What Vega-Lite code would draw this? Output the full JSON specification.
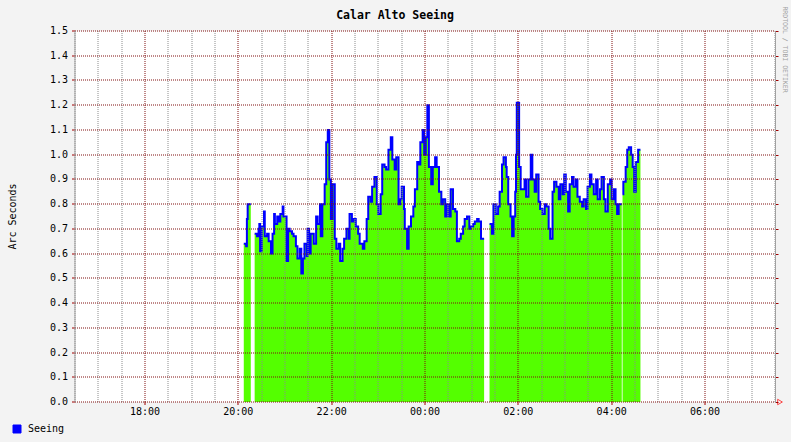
{
 "$schema": "https://vega.github.io/schema/vega-lite/v6.json",
 "width": 700,
 "height": 371,
 "autosize": {"type": "none"},
 "padding": {"left": 75, "top": 31, "right": 16, "bottom": 40},
 "background": "#f3f3f3",
 "config": {"view": {"fill": "#ffffff", "stroke": null}, "font": "DejaVu Sans Mono"},
 "title": {"text": "Calar Alto Seeing", "font": "DejaVu Sans Mono", "fontSize": 11.5, "fontWeight": "bold", "color": "#000000", "anchor": "middle", "dx": -30, "offset": 12, "dy": 37, "baseline": "alphabetic"},
 "data": {"values": [
  {"t": "2013-03-10T20:07:00Z", "v": 0.64},
  {"t": "2013-03-10T20:10:00Z", "v": 0.63},
  {"t": "2013-03-10T20:11:00Z", "v": 0.74},
  {"t": "2013-03-10T20:12:00Z", "v": 0.80},
  {"t": "2013-03-10T20:16:00Z", "v": 0.80},
  {"t": "2013-03-10T20:18:00Z", "v": null},
  {"t": "2013-03-10T20:21:00Z", "v": 0.68},
  {"t": "2013-03-10T20:24:00Z", "v": 0.67},
  {"t": "2013-03-10T20:26:00Z", "v": 0.70},
  {"t": "2013-03-10T20:27:00Z", "v": 0.72},
  {"t": "2013-03-10T20:28:00Z", "v": 0.61},
  {"t": "2013-03-10T20:30:00Z", "v": 0.71},
  {"t": "2013-03-10T20:33:00Z", "v": 0.77},
  {"t": "2013-03-10T20:34:00Z", "v": 0.67},
  {"t": "2013-03-10T20:37:00Z", "v": 0.68},
  {"t": "2013-03-10T20:39:00Z", "v": 0.65},
  {"t": "2013-03-10T20:42:00Z", "v": 0.60},
  {"t": "2013-03-10T20:44:00Z", "v": 0.68},
  {"t": "2013-03-10T20:46:00Z", "v": 0.76},
  {"t": "2013-03-10T20:47:00Z", "v": 0.72},
  {"t": "2013-03-10T20:50:00Z", "v": 0.75},
  {"t": "2013-03-10T20:52:00Z", "v": 0.73},
  {"t": "2013-03-10T20:54:00Z", "v": 0.76},
  {"t": "2013-03-10T20:57:00Z", "v": 0.79},
  {"t": "2013-03-10T20:58:00Z", "v": 0.75},
  {"t": "2013-03-10T21:02:00Z", "v": 0.57},
  {"t": "2013-03-10T21:04:00Z", "v": 0.70},
  {"t": "2013-03-10T21:06:00Z", "v": 0.69},
  {"t": "2013-03-10T21:09:00Z", "v": 0.68},
  {"t": "2013-03-10T21:11:00Z", "v": 0.67},
  {"t": "2013-03-10T21:14:00Z", "v": 0.63},
  {"t": "2013-03-10T21:16:00Z", "v": 0.58},
  {"t": "2013-03-10T21:19:00Z", "v": 0.62},
  {"t": "2013-03-10T21:21:00Z", "v": 0.52},
  {"t": "2013-03-10T21:23:00Z", "v": 0.58},
  {"t": "2013-03-10T21:25:00Z", "v": 0.64},
  {"t": "2013-03-10T21:28:00Z", "v": 0.59},
  {"t": "2013-03-10T21:29:00Z", "v": 0.70},
  {"t": "2013-03-10T21:31:00Z", "v": 0.60},
  {"t": "2013-03-10T21:33:00Z", "v": 0.68},
  {"t": "2013-03-10T21:37:00Z", "v": 0.64},
  {"t": "2013-03-10T21:40:00Z", "v": 0.75},
  {"t": "2013-03-10T21:42:00Z", "v": 0.72},
  {"t": "2013-03-10T21:45:00Z", "v": 0.80},
  {"t": "2013-03-10T21:46:00Z", "v": 0.67},
  {"t": "2013-03-10T21:48:00Z", "v": 0.80},
  {"t": "2013-03-10T21:51:00Z", "v": 0.88},
  {"t": "2013-03-10T21:53:00Z", "v": 1.05},
  {"t": "2013-03-10T21:55:00Z", "v": 1.10},
  {"t": "2013-03-10T21:57:00Z", "v": 0.90},
  {"t": "2013-03-10T21:59:00Z", "v": 0.74},
  {"t": "2013-03-10T22:01:00Z", "v": 0.88},
  {"t": "2013-03-10T22:04:00Z", "v": 0.66},
  {"t": "2013-03-10T22:06:00Z", "v": 0.62},
  {"t": "2013-03-10T22:09:00Z", "v": 0.64},
  {"t": "2013-03-10T22:11:00Z", "v": 0.57},
  {"t": "2013-03-10T22:14:00Z", "v": 0.62},
  {"t": "2013-03-10T22:16:00Z", "v": 0.66},
  {"t": "2013-03-10T22:19:00Z", "v": 0.70},
  {"t": "2013-03-10T22:22:00Z", "v": 0.66},
  {"t": "2013-03-10T22:23:00Z", "v": 0.76},
  {"t": "2013-03-10T22:26:00Z", "v": 0.73},
  {"t": "2013-03-10T22:28:00Z", "v": 0.74},
  {"t": "2013-03-10T22:31:00Z", "v": 0.71},
  {"t": "2013-03-10T22:34:00Z", "v": 0.68},
  {"t": "2013-03-10T22:36:00Z", "v": 0.64},
  {"t": "2013-03-10T22:40:00Z", "v": 0.62},
  {"t": "2013-03-10T22:42:00Z", "v": 0.65},
  {"t": "2013-03-10T22:45:00Z", "v": 0.74},
  {"t": "2013-03-10T22:47:00Z", "v": 0.83},
  {"t": "2013-03-10T22:50:00Z", "v": 0.81},
  {"t": "2013-03-10T22:52:00Z", "v": 0.87},
  {"t": "2013-03-10T22:55:00Z", "v": 0.91},
  {"t": "2013-03-10T22:58:00Z", "v": 0.80},
  {"t": "2013-03-10T23:00:00Z", "v": 0.76},
  {"t": "2013-03-10T23:03:00Z", "v": 0.84},
  {"t": "2013-03-10T23:05:00Z", "v": 0.96},
  {"t": "2013-03-10T23:08:00Z", "v": 0.95},
  {"t": "2013-03-10T23:10:00Z", "v": 0.94},
  {"t": "2013-03-10T23:13:00Z", "v": 1.02},
  {"t": "2013-03-10T23:16:00Z", "v": 1.07},
  {"t": "2013-03-10T23:18:00Z", "v": 0.98},
  {"t": "2013-03-10T23:21:00Z", "v": 0.94},
  {"t": "2013-03-10T23:23:00Z", "v": 0.99},
  {"t": "2013-03-10T23:26:00Z", "v": 0.80},
  {"t": "2013-03-10T23:28:00Z", "v": 0.82},
  {"t": "2013-03-10T23:30:00Z", "v": 0.87},
  {"t": "2013-03-10T23:33:00Z", "v": 0.78},
  {"t": "2013-03-10T23:34:00Z", "v": 0.70},
  {"t": "2013-03-10T23:37:00Z", "v": 0.62},
  {"t": "2013-03-10T23:39:00Z", "v": 0.71},
  {"t": "2013-03-10T23:42:00Z", "v": 0.75},
  {"t": "2013-03-10T23:45:00Z", "v": 0.79},
  {"t": "2013-03-10T23:47:00Z", "v": 0.86},
  {"t": "2013-03-10T23:50:00Z", "v": 0.97},
  {"t": "2013-03-10T23:52:00Z", "v": 0.96},
  {"t": "2013-03-10T23:54:00Z", "v": 1.05},
  {"t": "2013-03-10T23:57:00Z", "v": 1.10},
  {"t": "2013-03-10T23:59:00Z", "v": 1.00},
  {"t": "2013-03-11T00:01:00Z", "v": 1.07},
  {"t": "2013-03-11T00:03:00Z", "v": 1.20},
  {"t": "2013-03-11T00:05:00Z", "v": 0.95},
  {"t": "2013-03-11T00:08:00Z", "v": 0.88},
  {"t": "2013-03-11T00:10:00Z", "v": 0.95},
  {"t": "2013-03-11T00:13:00Z", "v": 0.99},
  {"t": "2013-03-11T00:15:00Z", "v": 0.95},
  {"t": "2013-03-11T00:18:00Z", "v": 0.85},
  {"t": "2013-03-11T00:21:00Z", "v": 0.80},
  {"t": "2013-03-11T00:23:00Z", "v": 0.82},
  {"t": "2013-03-11T00:26:00Z", "v": 0.75},
  {"t": "2013-03-11T00:28:00Z", "v": 0.80},
  {"t": "2013-03-11T00:31:00Z", "v": 0.75},
  {"t": "2013-03-11T00:33:00Z", "v": 0.86},
  {"t": "2013-03-11T00:36:00Z", "v": 0.78},
  {"t": "2013-03-11T00:39:00Z", "v": 0.77},
  {"t": "2013-03-11T00:41:00Z", "v": 0.65},
  {"t": "2013-03-11T00:44:00Z", "v": 0.66},
  {"t": "2013-03-11T00:46:00Z", "v": 0.68},
  {"t": "2013-03-11T00:49:00Z", "v": 0.71},
  {"t": "2013-03-11T00:51:00Z", "v": 0.74},
  {"t": "2013-03-11T00:54:00Z", "v": 0.75},
  {"t": "2013-03-11T00:57:00Z", "v": 0.70},
  {"t": "2013-03-11T00:59:00Z", "v": 0.71},
  {"t": "2013-03-11T01:02:00Z", "v": 0.72},
  {"t": "2013-03-11T01:04:00Z", "v": 0.73},
  {"t": "2013-03-11T01:07:00Z", "v": 0.74},
  {"t": "2013-03-11T01:09:00Z", "v": 0.73},
  {"t": "2013-03-11T01:12:00Z", "v": 0.66},
  {"t": "2013-03-11T01:16:00Z", "v": 0.66},
  {"t": "2013-03-11T01:19:00Z", "v": null},
  {"t": "2013-03-11T01:23:00Z", "v": 0.72},
  {"t": "2013-03-11T01:26:00Z", "v": 0.68},
  {"t": "2013-03-11T01:28:00Z", "v": 0.80},
  {"t": "2013-03-11T01:31:00Z", "v": 0.76},
  {"t": "2013-03-11T01:34:00Z", "v": 0.79},
  {"t": "2013-03-11T01:36:00Z", "v": 0.85},
  {"t": "2013-03-11T01:39:00Z", "v": 0.96},
  {"t": "2013-03-11T01:41:00Z", "v": 0.99},
  {"t": "2013-03-11T01:44:00Z", "v": 0.95},
  {"t": "2013-03-11T01:45:00Z", "v": 0.91},
  {"t": "2013-03-11T01:47:00Z", "v": 0.80},
  {"t": "2013-03-11T01:50:00Z", "v": 0.75},
  {"t": "2013-03-11T01:52:00Z", "v": 0.67},
  {"t": "2013-03-11T01:54:00Z", "v": 0.75},
  {"t": "2013-03-11T01:56:00Z", "v": 0.85},
  {"t": "2013-03-11T01:57:00Z", "v": 1.00},
  {"t": "2013-03-11T01:58:00Z", "v": 1.21},
  {"t": "2013-03-11T02:01:00Z", "v": 0.95},
  {"t": "2013-03-11T02:03:00Z", "v": 0.86},
  {"t": "2013-03-11T02:08:00Z", "v": 0.90},
  {"t": "2013-03-11T02:10:00Z", "v": 0.83},
  {"t": "2013-03-11T02:13:00Z", "v": 0.90},
  {"t": "2013-03-11T02:16:00Z", "v": 1.00},
  {"t": "2013-03-11T02:18:00Z", "v": 0.90},
  {"t": "2013-03-11T02:21:00Z", "v": 0.85},
  {"t": "2013-03-11T02:23:00Z", "v": 0.92},
  {"t": "2013-03-11T02:26:00Z", "v": 0.81},
  {"t": "2013-03-11T02:28:00Z", "v": 0.78},
  {"t": "2013-03-11T02:31:00Z", "v": 0.76},
  {"t": "2013-03-11T02:34:00Z", "v": 0.80},
  {"t": "2013-03-11T02:36:00Z", "v": 0.79},
  {"t": "2013-03-11T02:39:00Z", "v": 0.70},
  {"t": "2013-03-11T02:41:00Z", "v": 0.66},
  {"t": "2013-03-11T02:44:00Z", "v": 0.85},
  {"t": "2013-03-11T02:46:00Z", "v": 0.89},
  {"t": "2013-03-11T02:49:00Z", "v": 0.87},
  {"t": "2013-03-11T02:52:00Z", "v": 0.82},
  {"t": "2013-03-11T02:54:00Z", "v": 0.88},
  {"t": "2013-03-11T02:57:00Z", "v": 0.84},
  {"t": "2013-03-11T02:59:00Z", "v": 0.92},
  {"t": "2013-03-11T03:01:00Z", "v": 0.85},
  {"t": "2013-03-11T03:04:00Z", "v": 0.77},
  {"t": "2013-03-11T03:06:00Z", "v": 0.88},
  {"t": "2013-03-11T03:09:00Z", "v": 0.91},
  {"t": "2013-03-11T03:11:00Z", "v": 0.87},
  {"t": "2013-03-11T03:14:00Z", "v": 0.90},
  {"t": "2013-03-11T03:16:00Z", "v": 0.83},
  {"t": "2013-03-11T03:19:00Z", "v": 0.81},
  {"t": "2013-03-11T03:22:00Z", "v": 0.79},
  {"t": "2013-03-11T03:24:00Z", "v": 0.82},
  {"t": "2013-03-11T03:27:00Z", "v": 0.78},
  {"t": "2013-03-11T03:29:00Z", "v": 0.87},
  {"t": "2013-03-11T03:32:00Z", "v": 0.92},
  {"t": "2013-03-11T03:34:00Z", "v": 0.88},
  {"t": "2013-03-11T03:37:00Z", "v": 0.84},
  {"t": "2013-03-11T03:40:00Z", "v": 0.90},
  {"t": "2013-03-11T03:42:00Z", "v": 0.82},
  {"t": "2013-03-11T03:45:00Z", "v": 0.86},
  {"t": "2013-03-11T03:47:00Z", "v": 0.91},
  {"t": "2013-03-11T03:50:00Z", "v": 0.82},
  {"t": "2013-03-11T03:52:00Z", "v": 0.77},
  {"t": "2013-03-11T03:55:00Z", "v": 0.88},
  {"t": "2013-03-11T03:58:00Z", "v": 0.90},
  {"t": "2013-03-11T04:00:00Z", "v": 0.82},
  {"t": "2013-03-11T04:03:00Z", "v": 0.86},
  {"t": "2013-03-11T04:05:00Z", "v": 0.80},
  {"t": "2013-03-11T04:07:00Z", "v": 0.76},
  {"t": "2013-03-11T04:09:00Z", "v": 0.80},
  {"t": "2013-03-11T04:13:00Z", "v": 0.80},
  {"t": "2013-03-11T04:13:30Z", "v": null},
  {"t": "2013-03-11T04:14:00Z", "v": 0.84},
  {"t": "2013-03-11T04:15:00Z", "v": 0.89},
  {"t": "2013-03-11T04:18:00Z", "v": 0.95},
  {"t": "2013-03-11T04:20:00Z", "v": 1.02},
  {"t": "2013-03-11T04:22:00Z", "v": 1.03},
  {"t": "2013-03-11T04:25:00Z", "v": 1.00},
  {"t": "2013-03-11T04:27:00Z", "v": 0.95},
  {"t": "2013-03-11T04:29:00Z", "v": 0.85},
  {"t": "2013-03-11T04:31:00Z", "v": 0.97},
  {"t": "2013-03-11T04:34:00Z", "v": 1.02},
  {"t": "2013-03-11T04:37:00Z", "v": 1.02}
 ]},
 "encoding": {
  "x": {"field": "t", "type": "temporal",
   "scale": {"type": "utc", "nice": false, "domain": [1362933000000, 1362987000000]},
   "axis": {
    "title": null,
    "zindex": 1,
    "translate": 0,
    "values": [1362933000000, 1362934800000, 1362936600000, 1362938400000, 1362940200000, 1362942000000, 1362943800000, 1362945600000, 1362947400000, 1362949200000, 1362951000000, 1362952800000, 1362954600000, 1362956400000, 1362958200000, 1362960000000, 1362961800000, 1362963600000, 1362965400000, 1362967200000, 1362969000000, 1362970800000, 1362972600000, 1362974400000, 1362976200000, 1362978000000, 1362979800000, 1362981600000, 1362983400000, 1362985200000, 1362987000000],
    "labelExpr": "utcminutes(datum.value) == 0 && utchours(datum.value) % 2 == 0 ? utcFormat(datum.value, '%H:%M') : ''",
    "grid": true,
    "gridColor": {"condition": {"test": "utcminutes(datum.value) == 0 && utchours(datum.value) % 2 == 0", "value": "#801010"}, "value": "#8c8c8c"},
    "gridDash": [1, 1],
    "gridOpacity": 1,
    "gridWidth": 1,
    "ticks": true,
    "tickColor": "#a00000",
    "tickOpacity": {"condition": {"test": "utcminutes(datum.value) == 0 && utchours(datum.value) % 2 == 0", "value": 1}, "value": 0},
    "tickSize": 3,
    "domain": false,
    "labelFont": "DejaVu Sans Mono",
    "labelFontSize": 10,
    "labelColor": "#000000",
    "labelPadding": 2,
    "labelOverlap": false,
    "labelFlush": false,
    "labelBound": false
   }
  }
 },
 "layer": [
  {
   "mark": {"type": "area", "interpolate": "step-after", "color": "#54ff00", "invalid": "break-paths-show-domains"},
   "encoding": {
    "y": {"field": "v", "type": "quantitative",
     "scale": {"domain": [0, 1.5], "nice": false},
     "axis": {
      "zindex": 1,
      "translate": 0,
      "values": [0, 0.1, 0.2, 0.3, 0.4, 0.5, 0.6, 0.7, 0.8, 0.9, 1.0, 1.1, 1.2, 1.3, 1.4, 1.5],
      "format": ".1f",
      "grid": true,
      "gridColor": "#801010",
      "gridDash": [1, 1],
      "gridOpacity": 1,
      "tickColor": "#a00000",
      "tickSize": 3,
      "domainColor": "#a0a0a0",
      "labelFont": "DejaVu Sans Mono",
      "labelFontSize": 10,
      "labelColor": "#000000",
      "labelPadding": 4,
      "labelOverlap": false,
      "labelFlush": false,
      "title": "Arc Seconds",
      "titleFont": "DejaVu Sans Mono",
      "titleFontSize": 10,
      "titleFontWeight": "normal",
      "titleColor": "#000000",
      "titleAngle": 270,
      "titleAlign": "center",
      "titleBaseline": "middle",
      "titleX": -62,
      "titleY": 185.5
     }
    }
   }
  },
  {
   "mark": {"type": "line", "interpolate": "step-after", "strokeWidth": 2, "invalid": "break-paths-show-domains"},
   "encoding": {
    "y": {"field": "v", "type": "quantitative",
     "axis": {
      "orient": "right",
      "zindex": 1,
      "values": [0, 0.1, 0.2, 0.3, 0.4, 0.5, 0.6, 0.7, 0.8, 0.9, 1.0, 1.1, 1.2, 1.3, 1.4, 1.5],
      "labels": false,
      "grid": false,
      "tickColor": "#a00000",
      "tickSize": 3,
      "domainColor": "#a0a0a0",
      "title": "RRDTOOL / TOBI OETIKER",
      "titleFont": "DejaVu Sans Mono",
      "titleFontSize": 6.5,
      "titleFontWeight": "normal",
      "titleColor": "#a0a0a0",
      "titleAngle": 90,
      "titleAlign": "center",
      "titleBaseline": "middle",
      "titleX": 9,
      "titleY": 18
     }
    },
    "color": {"datum": "Seeing", "scale": {"range": ["#0000ff"]},
     "legend": {
      "title": null,
      "orient": "none",
      "legendX": -63,
      "legendY": 393,
      "padding": 0,
      "symbolType": "square",
      "symbolSize": 64,
      "labelFont": "DejaVu Sans Mono",
      "labelFontSize": 10,
      "labelColor": "#000000",
      "labelOffset": 6,
      "encode": {"symbols": {"update": {"fill": {"value": "#0000ff"}, "stroke": {"value": "#000000"}, "strokeWidth": {"value": 1}, "shape": {"value": "square"}, "size": {"value": 64}}}}
     }
    }
   }
  },
  {
   "data": {"values": [{"t": "2013-03-11T07:30:00Z", "v": 0}]},
   "mark": {"type": "point", "shape": "triangle-right", "filled": false, "color": "#ff0000", "size": 30, "strokeWidth": 1, "xOffset": 5},
   "encoding": {
    "y": {"field": "v", "type": "quantitative", "axis": null}
   }
  }
 ],
 "resolve": {"axis": {"y": "independent"}}
}
